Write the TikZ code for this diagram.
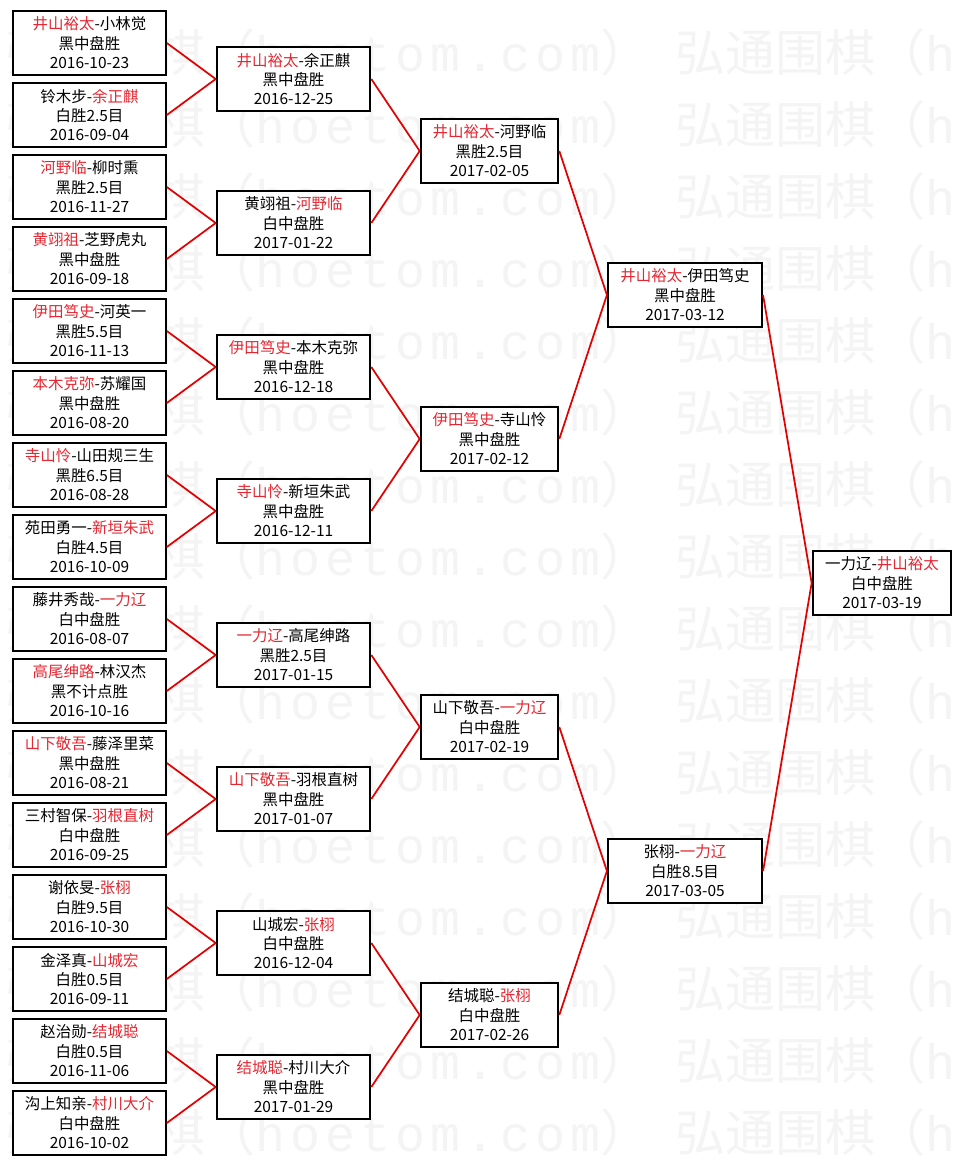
\documentclass[tikz,border=0pt]{standalone}
\usepackage{fontspec}
\setmainfont{Noto Sans CJK SC}
\newfontfamily\wmlat[LetterSpace=10]{Liberation Mono}
\definecolor{win}{RGB}{228,40,50}
\definecolor{ln}{RGB}{228,0,0}
\definecolor{wmgray}{RGB}{244,244,244}
\newcommand\W[1]{\textcolor{win}{#1}}
\tikzset{
  gbox/.style={draw=black, line width=1.5pt, fill=white, inner sep=0pt,
    minimum height=48.5pt, align=center, text=black,
    font=\fontsize{11.6pt}{14.6pt}\selectfont},
  w1/.style={gbox, minimum width=114.5pt},
  w2/.style={gbox, minimum width=115.2pt},
  w3/.style={gbox, minimum width=103.2pt},
  w4/.style={gbox, minimum width=115.6pt},
  w5/.style={gbox, minimum width=104pt},
  conn/.style={draw=ln, line width=1.3pt},
  wm/.style={anchor=west, inner sep=0pt, text=wmgray,
    font=\fontsize{37.5pt}{37.5pt}\selectfont}
}
\begin{document}
\begin{tikzpicture}[x=0.75pt, y=-0.75pt]
\useasboundingbox (0,0) rectangle (961,1165);
\fill[white] (0,0) rectangle (961,1165);
% watermark
\begin{scope}
\clip (0,0) rectangle (961,1165);
\foreach \r in {0,...,15} {
  \node[wm] (wma\r) at (5,{52+72*\r}) {弘通围棋（{\wmlat hoetom.com}）};
  \node[wm] (wmb\r) at (675,{52+72*\r}) {弘通围棋（{\wmlat hoetom.com}）};
}
\end{scope}
% column 1
\node[w1] (a1)  at (89.5,43)   {\W{井山裕太}-小林觉\\黑中盘胜\\2016-10-23};
\node[w1] (a2)  at (89.5,115)  {铃木步-\W{余正麒}\\白胜2.5目\\2016-09-04};
\node[w1] (a3)  at (89.5,187)  {\W{河野临}-柳时熏\\黑胜2.5目\\2016-11-27};
\node[w1] (a4)  at (89.5,259)  {\W{黄翊祖}-芝野虎丸\\黑中盘胜\\2016-09-18};
\node[w1] (a5)  at (89.5,331)  {\W{伊田笃史}-河英一\\黑胜5.5目\\2016-11-13};
\node[w1] (a6)  at (89.5,403)  {\W{本木克弥}-苏耀国\\黑中盘胜\\2016-08-20};
\node[w1] (a7)  at (89.5,475)  {\W{寺山怜}-山田规三生\\黑胜6.5目\\2016-08-28};
\node[w1] (a8)  at (89.5,547)  {苑田勇一-\W{新垣朱武}\\白胜4.5目\\2016-10-09};
\node[w1] (a9)  at (89.5,619)  {藤井秀哉-\W{一力辽}\\白中盘胜\\2016-08-07};
\node[w1] (a10) at (89.5,691)  {\W{高尾绅路}-林汉杰\\黑不计点胜\\2016-10-16};
\node[w1] (a11) at (89.5,763)  {\W{山下敬吾}-藤泽里菜\\黑中盘胜\\2016-08-21};
\node[w1] (a12) at (89.5,835)  {三村智保-\W{羽根直树}\\白中盘胜\\2016-09-25};
\node[w1] (a13) at (89.5,907)  {谢依旻-\W{张栩}\\白胜9.5目\\2016-10-30};
\node[w1] (a14) at (89.5,979)  {金泽真-\W{山城宏}\\白胜0.5目\\2016-09-11};
\node[w1] (a15) at (89.5,1051) {赵治勋-\W{结城聪}\\白胜0.5目\\2016-11-06};
\node[w1] (a16) at (89.5,1123) {沟上知亲-\W{村川大介}\\白中盘胜\\2016-10-02};
% column 2
\node[w2] (b1) at (293.5,79)   {\W{井山裕太}-余正麒\\黑中盘胜\\2016-12-25};
\node[w2] (b2) at (293.5,223)  {黄翊祖-\W{河野临}\\白中盘胜\\2017-01-22};
\node[w2] (b3) at (293.5,367)  {\W{伊田笃史}-本木克弥\\黑中盘胜\\2016-12-18};
\node[w2] (b4) at (293.5,511)  {\W{寺山怜}-新垣朱武\\黑中盘胜\\2016-12-11};
\node[w2] (b5) at (293.5,655)  {\W{一力辽}-高尾绅路\\黑胜2.5目\\2017-01-15};
\node[w2] (b6) at (293.5,799)  {\W{山下敬吾}-羽根直树\\黑中盘胜\\2017-01-07};
\node[w2] (b7) at (293.5,943)  {山城宏-\W{张栩}\\白中盘胜\\2016-12-04};
\node[w2] (b8) at (293.5,1087) {\W{结城聪}-村川大介\\黑中盘胜\\2017-01-29};
% column 3
\node[w3] (c1) at (489.5,151)  {\W{井山裕太}-河野临\\黑胜2.5目\\2017-02-05};
\node[w3] (c2) at (489.5,439)  {\W{伊田笃史}-寺山怜\\黑中盘胜\\2017-02-12};
\node[w3] (c3) at (489.5,727)  {山下敬吾-\W{一力辽}\\白中盘胜\\2017-02-19};
\node[w3] (c4) at (489.5,1015) {结城聪-\W{张栩}\\白中盘胜\\2017-02-26};
% column 4
\node[w4] (d1) at (685,295) {\W{井山裕太}-伊田笃史\\黑中盘胜\\2017-03-12};
\node[w4] (d2) at (685,871) {张栩-\W{一力辽}\\白胜8.5目\\2017-03-05};
% final
\node[w5] (e) at (882,583) {一力辽-\W{井山裕太}\\白中盘胜\\2017-03-19};
% connectors
\foreach \i in {1,...,8} {
  \pgfmathtruncatemacro\j{2*\i-1}
  \pgfmathtruncatemacro\k{2*\i}
  \draw[conn] (a\j.east) -- (b\i.west);
  \draw[conn] (a\k.east) -- (b\i.west);
}
\foreach \i in {1,...,4} {
  \pgfmathtruncatemacro\j{2*\i-1}
  \pgfmathtruncatemacro\k{2*\i}
  \draw[conn] (b\j.east) -- (c\i.west);
  \draw[conn] (b\k.east) -- (c\i.west);
}
\draw[conn] (c1.east) -- (d1.west);
\draw[conn] (c2.east) -- (d1.west);
\draw[conn] (c3.east) -- (d2.west);
\draw[conn] (c4.east) -- (d2.west);
\draw[conn] (d1.east) -- (e.west);
\draw[conn] (d2.east) -- (e.west);
\end{tikzpicture}
\end{document}
